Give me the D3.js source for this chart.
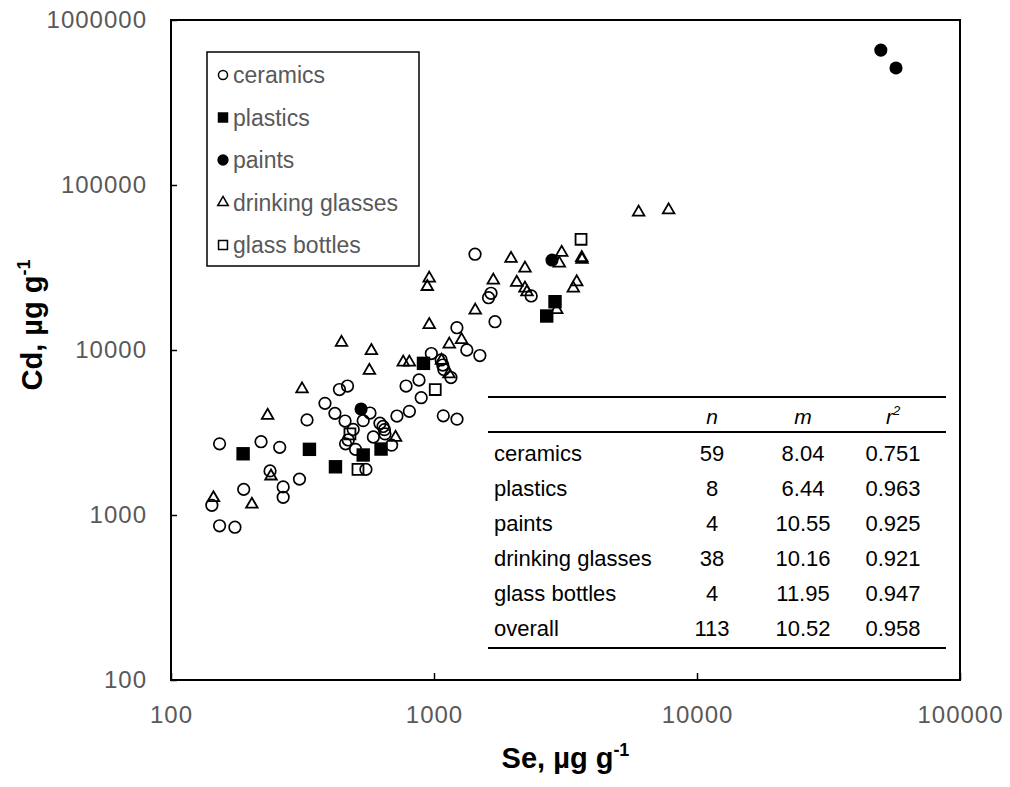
<!DOCTYPE html>
<head>
  <meta charset="utf-8">
  <script src="https://d3js.org/d3.v7.min.js"></script>
  <style>
    body { margin:0; background:#fff; }
    text { font-family: Arial, "Liberation Sans", sans-serif; }
    .tick text { fill:#595959; font-size:24px; letter-spacing:1px; }
    .tick line { stroke:#000; stroke-width:1.5px; }
  </style>
</head>

<body>
<script>
  // Se (x) and Cd (y), ug/g
  var ceramics = [
    [153,2700],[220,2780],[259,2570],[329,3770],[238,1850],[308,1650],[189,1430],
    [267,1480],[267,1280],[143,1145],[153,860],[175,843],[385,4750],[437,5760],
    [469,6050],[420,4130],[459,3710],[571,4150],[538,3730],[723,3980],[806,4250],
    [623,3600],[640,3440],[648,3290],[651,3100],[588,2970],[493,3300],[472,2850],
    [461,2700],[690,2650],[503,2500],[551,1890],[977,9520],[1065,8700],[1080,8110],
    [1090,7620],[1160,6810],[1333,10000],[1494,9260],[1222,13650],[783,6050],
    [877,6580],[894,5140],[1085,3990],[1223,3810],[1432,38070],[1647,22060],
    [1612,20750],[1706,14840],[2342,21250]
  ];
  var plastics = [
    [188,2350],[336,2500],[422,1960],[538,2310],[629,2510],[912,8300],[2683,16070],[2885,19620]
  ];
  var paints = [
    [528,4390],[2810,35100],[50000,657000],[57100,512000]
  ];
  var drinkingGlasses = [
    [145,1270],[203,1160],[233,4010],[240,1720],[315,5800],[445,11100],[578,9900],
    [568,7510],[764,8420],[806,8420],[714,2950],[959,27200],[943,24200],[959,14230],
    [1143,10830],[1273,11530],[1435,17400],[1681,26450],[1963,35850],[2063,25660],
    [2218,31270],[2218,23650],[2257,22460],[3059,38980],[2995,33540],[2928,17550],
    [3488,25840],[3386,23650],[3645,36260],[3654,35360],[6000,68300],[7800,70500],
    [1068,8640],[1140,7150]
  ];
  var glassBottles = [
    [514,1890],[479,3100],[1011,5760],[3623,46880]
  ];

  var legendLabels = ["ceramics", "plastics", "paints", "drinking glasses", "glass bottles"];
  var xTicks = [100, 1000, 10000, 100000];
  var yTicks = [100, 1000, 10000, 100000, 1000000];

  var tableHead = ["n", "m", "r"];
  var tableRows = ["ceramics", "plastics", "paints", "drinking glasses", "glass bottles", "overall"];
  var tableN = ["59", "8", "4", "38", "4", "113"];
  var tableM = ["8.04", "6.44", "10.55", "10.16", "11.95", "10.52"];
  var tableR2 = ["0.751", "0.963", "0.925", "0.921", "0.947", "0.958"];

  var W = 1010, H = 787;
  var plot = {left: 171, right: 960, top: 20, bottom: 680};

  var svg = d3.select("body").append("svg")
    .attr("width", W)
    .attr("height", H);

  var x = d3.scaleLog().domain([100, 100000]).range([plot.left, plot.right]);
  var y = d3.scaleLog().domain([100, 1000000]).range([plot.bottom, plot.top]);

  // axes, ticks point inward
  svg.append("g")
    .attr("transform", "translate(0," + plot.bottom + ")")
    .call(d3.axisBottom(x).tickValues(xTicks).tickFormat(d3.format("d"))
      .tickSize(-7).tickPadding(26))
    .call(function(g) { g.select(".domain").remove(); });

  svg.append("g")
    .attr("transform", "translate(" + plot.left + ",0)")
    .call(d3.axisLeft(y).tickValues(yTicks).tickFormat(d3.format("d"))
      .tickSize(-6).tickPadding(24))
    .call(function(g) { g.select(".domain").remove(); });

  svg.append("rect")
    .attr("x", plot.left).attr("y", plot.top)
    .attr("width", plot.right - plot.left)
    .attr("height", plot.bottom - plot.top)
    .attr("fill", "none")
    .attr("stroke", "#000")
    .attr("stroke-width", 2);

  // axis titles
  var xt = svg.append("text")
    .attr("x", (plot.left + plot.right) / 2)
    .attr("y", 768)
    .attr("text-anchor", "middle")
    .style("font-size", "29px").style("font-weight", "bold")
    .text("Se, \u00b5g g");
  xt.append("tspan").attr("dy", -12).style("font-size", "18px").text("-1");

  var yt = svg.append("text")
    .attr("transform", "translate(42," + 325 + ") rotate(-90)")
    .attr("text-anchor", "middle")
    .style("font-size", "29px").style("font-weight", "bold")
    .text("Cd, \u00b5g g");
  yt.append("tspan").attr("dy", -12).style("font-size", "18px").text("-1");

  // marker drawing
  var styles = [
    {data: ceramics, type: d3.symbolCircle, size: 105, fill: "none", sw: 1.7},
    {data: plastics, type: d3.symbolSquare, size: 180, fill: "#000", sw: 0},
    {data: paints, type: d3.symbolCircle, size: 135, fill: "#000", sw: 0},
    {data: drinkingGlasses, type: d3.symbolTriangle, size: 58, fill: "none", sw: 1.8},
    {data: glassBottles, type: d3.symbolSquare, size: 120, fill: "none", sw: 1.8}
  ];

  styles.forEach(function(s) {
    svg.append("g").selectAll("path")
      .data(s.data)
      .enter().append("path")
      .attr("d", d3.symbol().type(s.type).size(s.size))
      .attr("transform", function(d) { return "translate(" + x(d[0]) + "," + y(d[1]) + ")"; })
      .attr("fill", s.fill)
      .attr("stroke", "#000")
      .attr("stroke-width", s.sw);
  });

  // legend
  var lg = svg.append("g");
  lg.append("rect")
    .attr("x", 207).attr("y", 52).attr("width", 212).attr("height", 214)
    .attr("fill", "#fff").attr("stroke", "#000").attr("stroke-width", 1.5);
  var legendSizes = [65, 110, 100, 48, 80];
  var item = lg.selectAll("g.item")
    .data(legendLabels)
    .enter().append("g")
    .attr("class", "item")
    .attr("transform", function(d, i) { return "translate(223," + (75 + i * 42.5) + ")"; });
  item.append("path")
    .attr("d", function(d, i) { return d3.symbol().type(styles[i].type).size(legendSizes[i])(); })
    .attr("fill", function(d, i) { return styles[i].fill; })
    .attr("stroke", "#000")
    .attr("stroke-width", function(d, i) { return styles[i].sw ? 1.5 : 0; });
  item.append("text")
    .attr("x", 10).attr("y", 8)
    .style("font-size", "23px").style("fill", "#595959")
    .text(function(d) { return d; });

  // table
  var tb = svg.append("g");
  var colX = [712, 803, 893];
  [397, 432, 648].forEach(function(yy) {
    tb.append("line")
      .attr("x1", 488).attr("x2", 946).attr("y1", yy).attr("y2", yy)
      .attr("stroke", "#000").attr("stroke-width", 2);
  });
  tableHead.forEach(function(h, i) {
    var t = tb.append("text")
      .attr("x", colX[i]).attr("y", 424)
      .attr("text-anchor", "middle")
      .style("font-size", "21px").style("font-style", "italic")
      .text(h);
    if (h === "r") t.append("tspan").attr("dy", -9).style("font-size", "13px").text("2");
  });
  tableRows.forEach(function(r, i) {
    var yy = 461 + i * 35;
    tb.append("text").attr("x", 494).attr("y", yy).style("font-size", "22px").text(r);
    [tableN[i], tableM[i], tableR2[i]].forEach(function(v, j) {
      tb.append("text").attr("x", colX[j]).attr("y", yy)
        .attr("text-anchor", "middle").style("font-size", "22px").text(v);
    });
  });
</script>
</body>
